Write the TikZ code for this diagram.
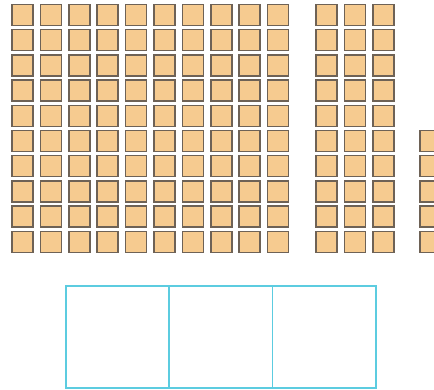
\documentclass[tikz,border=0pt]{standalone}
\definecolor{blockfill}{HTML}{F6CB90}
\definecolor{blockedge}{HTML}{6E6256}
\definecolor{boxedge}{HTML}{5CCCE0}
\tikzset{
  unit/.style={draw=blockedge, fill=blockfill, line width=1.5pt},
  placebox/.style={draw=boxedge, line width=1.9pt}
}
\begin{document}
\begin{tikzpicture}[x=1pt,y=-1pt]
\useasboundingbox (0,0) rectangle (434,390);
\clip (0,0) rectangle (434,390);
% hundred block
\foreach \c in {0,...,9}{
  \foreach \r in {0,...,9}{
    \draw[unit] ({12+28.4*\c},{4.5+25.2*\r}) rectangle ++(21,21);
  }
}
% tens
\foreach \c in {0,1,2}{
  \foreach \r in {0,...,9}{
    \draw[unit] ({316+28.6*\c},{4.5+25.2*\r}) rectangle ++(21,21);
  }
}
% ones
\foreach \r in {5,...,9}{
  \draw[unit] (420,{4.5+25.2*\r}) rectangle ++(21,21);
}
% place value boxes
\draw[placebox] (66,286) rectangle (376,388);
\draw[placebox] (169,286) -- (169,388);
\draw[placebox] (272.5,286) -- (272.5,388);
\end{tikzpicture}
\end{document}
